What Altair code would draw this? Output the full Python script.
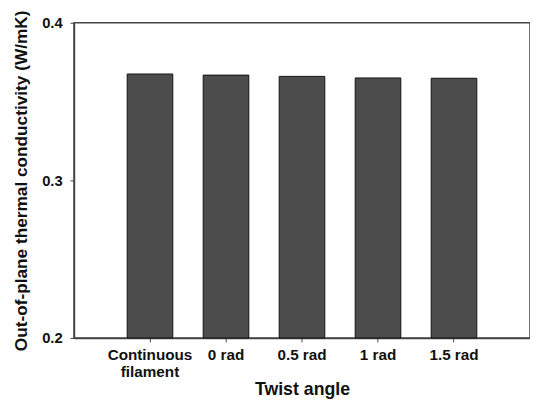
import altair as alt
import pandas as pd

categories = ["Continuous filament", "0 rad", "0.5 rad", "1 rad", "1.5 rad"]
values = [0.3675, 0.3668, 0.3660, 0.3650, 0.3648]
y_ticks = [0.2, 0.3, 0.4]

df = pd.DataFrame({"angle": categories, "k": values})

FONT = "Liberation Sans"

chart = alt.Chart(df).mark_bar(
    color="#4c4c4c", stroke="#111111", strokeWidth=1
).encode(
    x=alt.X(
        "angle:N",
        sort=categories,
        scale=alt.Scale(paddingInner=0.4, paddingOuter=0.7),
        axis=alt.Axis(
            title="Twist angle",
            labelAngle=0,
            labelExpr="indexof(datum.label, 'Continuous') >= 0 ? split(datum.label, ' ') : datum.label",
            labelLineHeight=17,
            labelFontSize=15.5,
            labelFont=FONT,
            labelFontWeight="bold",
            labelColor="#111111",
            labelPadding=6,
            tickSize=4,
            tickColor="#444444",
            domainColor="#444444",
            domainWidth=1.5,
            titleFontSize=18,
            titleFont=FONT,
            titleFontWeight="bold",
            titleColor="#111111",
            titleY=57,
            titleBaseline="alphabetic",
        ),
    ),
    y=alt.Y(
        "k:Q",
        scale=alt.Scale(domain=[0.2, 0.4], zero=False, nice=False),
        axis=alt.Axis(
            title="Out-of-plane thermal conductivity (W/mK)",
            values=y_ticks,
            format=".1f",
            grid=False,
            labelFontSize=15,
            labelFont=FONT,
            labelFontWeight="bold",
            labelColor="#111111",
            labelPadding=8,
            tickSize=4,
            tickColor="#444444",
            domainColor="#444444",
            domainWidth=1.5,
            titleFontSize=17.5,
            titleFont=FONT,
            titleFontWeight="bold",
            titleColor="#111111",
            titleX=-53,
            titleBaseline="middle",
        ),
    ),
    y2=alt.datum(0.2),
).properties(
    width=463,
    height=320,
    padding={"left": 67, "top": 12, "right": 0, "bottom": 63},
    autosize="none",
).configure_view(
    stroke="#444444", strokeWidth=1.5
)

chart.save("out.html", embed_options={"renderer": "svg", "actions": False})
